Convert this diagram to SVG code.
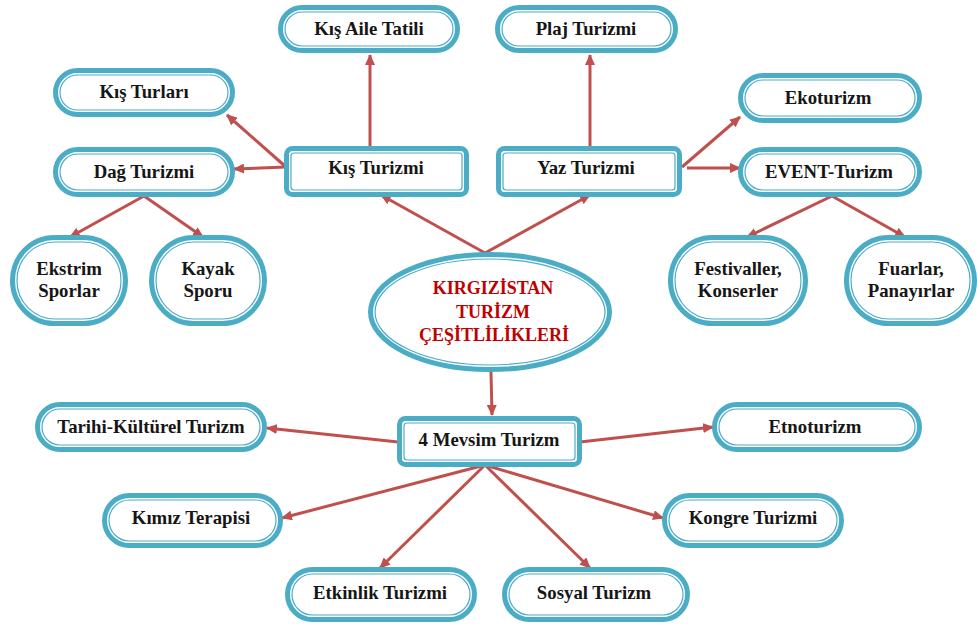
<svg xmlns="http://www.w3.org/2000/svg" width="977" height="628" viewBox="0 0 977 628">
<defs>
<marker id="ah" viewBox="0 0 11 10" markerWidth="11" markerHeight="10" refX="10" refY="5" orient="auto" markerUnits="userSpaceOnUse">
<path d="M0,0 L11,5 L0,10 z" fill="#C0504D"/>
</marker>
<style>
.o{fill:#fff;stroke:#4BACC6;stroke-width:5}
.i{fill:none;stroke:#4BACC6;stroke-width:1.2}
.t{font-family:"Liberation Serif","Times New Roman",serif;font-weight:bold;font-size:18.8px;fill:#161616;text-anchor:middle}
.r{font-family:"Liberation Serif","Times New Roman",serif;font-weight:bold;font-size:18px;fill:#C00000;text-anchor:middle}
.c line{stroke:#C0504D;stroke-width:3;marker-end:url(#ah)}
</style>
</defs>
<rect width="977" height="628" fill="#fff"/>
<g class="c" id="connectors">
<line x1="370" y1="146" x2="370" y2="55"/>
<line x1="286" y1="167" x2="227" y2="115"/>
<line x1="286" y1="167" x2="234" y2="169"/>
<line x1="144" y1="196" x2="70" y2="237"/>
<line x1="144" y1="196" x2="203" y2="237"/>
<line x1="485" y1="253" x2="381" y2="195"/>
<line x1="485" y1="253" x2="590" y2="195"/>
<line x1="590" y1="146" x2="590" y2="55"/>
<line x1="682" y1="167" x2="740" y2="117"/>
<line x1="687" y1="168" x2="740" y2="168"/>
<line x1="832" y1="196" x2="747" y2="237"/>
<line x1="832" y1="196" x2="905" y2="237"/>
<line x1="491" y1="372" x2="492" y2="415"/>
<line x1="398" y1="442" x2="267" y2="428"/>
<line x1="485" y1="465" x2="282" y2="518"/>
<line x1="485" y1="465" x2="380" y2="568"/>
<line x1="580" y1="442" x2="713" y2="427"/>
<line x1="485" y1="465" x2="663" y2="518"/>
<line x1="485" y1="465" x2="590" y2="568"/>
</g>
<g id="kis-aile-tatili"><rect class="o" x="280.5" y="7.5" width="177" height="43" rx="21.5"/><rect class="i" x="285" y="12" width="168" height="34" rx="17"/><text class="t" x="369" y="35">Kış Aile Tatili</text></g>
<g id="kis-turlari"><rect class="o" x="55.5" y="70.5" width="177" height="44" rx="22"/><rect class="i" x="60" y="75" width="168" height="35" rx="17.5"/><text class="t" x="144" y="98">Kış Turları</text></g>
<g id="dag-turizmi"><rect class="o" x="55.5" y="149.5" width="177" height="45" rx="22.5"/><rect class="i" x="60" y="154" width="168" height="36" rx="18"/><text class="t" x="144" y="178">Dağ Turizmi</text></g>
<g id="kis-turizmi"><rect class="o" x="286.5" y="148.5" width="180" height="46" rx="6"/><rect class="i" x="291" y="153" width="171" height="37" rx="3"/><text class="t" x="376" y="174">Kış Turizmi</text></g>
<g id="plaj-turizmi"><rect class="o" x="497.5" y="7.5" width="178" height="43" rx="21.5"/><rect class="i" x="502" y="12" width="169" height="34" rx="17"/><text class="t" x="586" y="35">Plaj Turizmi</text></g>
<g id="yaz-turizmi"><rect class="o" x="498.5" y="148.5" width="181" height="46" rx="6"/><rect class="i" x="503" y="153" width="172" height="37" rx="3"/><text class="t" x="586" y="174">Yaz Turizmi</text></g>
<g id="ekoturizm"><rect class="o" x="740.5" y="75.5" width="179" height="45" rx="22.5"/><rect class="i" x="745" y="80" width="170" height="36" rx="18"/><text class="t" x="828" y="104">Ekoturizm</text></g>
<g id="event-turizm"><rect class="o" x="740.5" y="149.5" width="179" height="45" rx="22.5"/><rect class="i" x="745" y="154" width="170" height="36" rx="18"/><text class="t" x="829" y="178">EVENT-Turizm</text></g>
<g id="festivaller"><rect class="o" x="670.5" y="237.5" width="135" height="86" rx="42" ry="43"/><rect class="i" x="675" y="242" width="126" height="77" rx="38" ry="38"/><text class="t" x="738" y="275">Festivaller,</text><text class="t" x="738" y="297">Konserler</text></g>
<g id="fuarlar"><rect class="o" x="846.5" y="237.5" width="128" height="86" rx="42" ry="43"/><rect class="i" x="851" y="242" width="119" height="77" rx="38" ry="38"/><text class="t" x="911" y="275">Fuarlar,</text><text class="t" x="911" y="297">Panayırlar</text></g>
<g id="ekstrim-sporlar"><rect class="o" x="12.5" y="237.5" width="113" height="86" rx="42" ry="43"/><rect class="i" x="17" y="242" width="104" height="77" rx="38" ry="38"/><text class="t" x="69" y="275">Ekstrim</text><text class="t" x="69" y="297">Sporlar</text></g>
<g id="kayak-sporu"><rect class="o" x="151.5" y="237.5" width="113" height="86" rx="42" ry="43"/><rect class="i" x="156" y="242" width="104" height="77" rx="38" ry="38"/><text class="t" x="208" y="275">Kayak</text><text class="t" x="208" y="297">Sporu</text></g>
<g id="kirgizistan"><ellipse class="o" cx="490" cy="312" rx="119.5" ry="57.5"/><ellipse class="i" cx="490" cy="312" rx="115" ry="53"/><text class="r" x="493" y="294">KIRGIZİSTAN</text><text class="r" x="493" y="318">TURİZM</text><text class="r" x="494" y="341">ÇEŞİTLİLİKLERİ</text></g>
<g id="tarihi-kulturel"><rect class="o" x="37.5" y="404.5" width="227" height="45" rx="22.5"/><rect class="i" x="42" y="409" width="218" height="36" rx="18"/><text class="t" x="151" y="433">Tarihi-Kültürel Turizm</text></g>
<g id="dort-mevsim"><rect class="o" x="399.5" y="418.5" width="180" height="46" rx="6"/><rect class="i" x="404" y="423" width="171" height="37" rx="3"/><text class="t" x="489" y="446">4 Mevsim Turizm</text></g>
<g id="etnoturizm"><rect class="o" x="714.5" y="404.5" width="205" height="45" rx="22.5"/><rect class="i" x="719" y="409" width="196" height="36" rx="18"/><text class="t" x="815" y="433">Etnoturizm</text></g>
<g id="kimiz-terapisi"><rect class="o" x="104.5" y="495.5" width="176" height="50" rx="25"/><rect class="i" x="109" y="500" width="167" height="41" rx="20.5"/><text class="t" x="191" y="524">Kımız Terapisi</text></g>
<g id="kongre-turizmi"><rect class="o" x="664.5" y="495.5" width="177" height="50" rx="25"/><rect class="i" x="669" y="500" width="168" height="41" rx="20.5"/><text class="t" x="753" y="524">Kongre Turizmi</text></g>
<g id="etkinlik-turizmi"><rect class="o" x="287.5" y="569.5" width="187" height="50" rx="25"/><rect class="i" x="292" y="574" width="178" height="41" rx="20.5"/><text class="t" x="380" y="599">Etkinlik Turizmi</text></g>
<g id="sosyal-turizm"><rect class="o" x="504.5" y="569.5" width="183" height="50" rx="25"/><rect class="i" x="509" y="574" width="174" height="41" rx="20.5"/><text class="t" x="594" y="599">Sosyal Turizm</text></g>
</svg>
